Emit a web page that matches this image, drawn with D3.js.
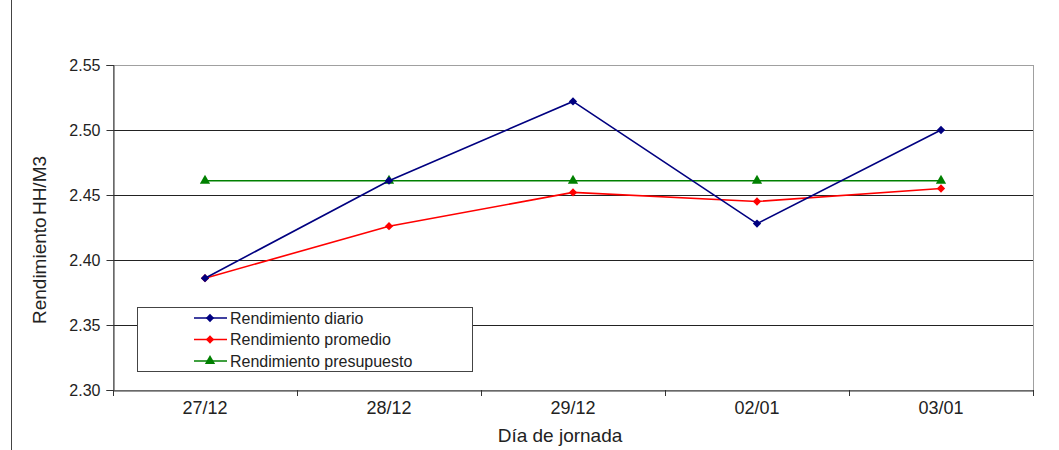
<!DOCTYPE html>
<html><head><meta charset="utf-8">
<script src="https://cdn.jsdelivr.net/npm/d3@7"></script>
<style>body{margin:0;background:#fff}svg{display:block;font-family:"Liberation Sans",Arial,sans-serif}</style>
</head><body>
<svg id="c" width="1059" height="450"></svg>
<script>
const categories = ["27/12","28/12","29/12","02/01","03/01"];
const diario = [2.386, 2.461, 2.522, 2.428, 2.500];
const promedio = [2.386, 2.426, 2.452, 2.445, 2.455];
const presupuesto = [2.461, 2.461, 2.461, 2.461, 2.461];
const yTicks = [2.30, 2.35, 2.40, 2.45, 2.50, 2.55];
const seriesNames = ["Rendimiento diario","Rendimiento promedio","Rendimiento presupuesto"];

const svg = d3.select("#c");
const FF = "Liberation Sans, Arial, sans-serif";
const L = 113, R = 1033, T = 65, B = 390;
const x = d3.scaleBand().domain(categories).range([L, R]);
const y = d3.scaleLinear().domain([2.30, 2.55]).range([B, T]);

// left vertical frame line
svg.append("line").attr("x1",11.5).attr("x2",11.5).attr("y1",0).attr("y2",450).attr("stroke","#444").attr("stroke-width",1);

// plot border (top/right gray)
svg.append("rect").attr("x",L+0.5).attr("y",T+0.5).attr("width",R-L).attr("height",B-T)
  .attr("fill","none").attr("stroke","#a0a0a0");

// gridlines
svg.append("g").selectAll("line").data(yTicks.slice(1,-1)).join("line")
  .attr("x1",L).attr("x2",R).attr("y1",d=>Math.round(y(d))+0.5).attr("y2",d=>Math.round(y(d))+0.5)
  .attr("stroke","#222").attr("stroke-width",1);

// y axis
const ya = svg.append("g").attr("transform",`translate(${L+0.5},0)`)
  .call(d3.axisLeft(y).tickValues(yTicks).tickFormat(d3.format(".2f")).tickSize(7).tickPadding(6));
ya.select(".domain").attr("stroke","#333");
ya.selectAll(".tick line").attr("stroke","#333");
ya.selectAll("text").attr("font-size",16).attr("fill","#222").attr("font-family",FF).attr("dy","0.36em");

// x axis
const xa = svg.append("g").attr("transform",`translate(0,${B+0.5})`)
  .call(d3.axisBottom(x).tickSize(0).tickPadding(14));
xa.select(".domain").attr("stroke","#333");
xa.selectAll("text").attr("font-size",18).attr("fill","#222").attr("font-family",FF).attr("dy","0.55em");
// boundary ticks
svg.append("g").selectAll("line").data(categories.concat(["end"])).join("line")
  .attr("x1",(d,i)=>Math.round(L + i*x.step())+0.5).attr("x2",(d,i)=>Math.round(L + i*x.step())+0.5)
  .attr("y1",B).attr("y2",B+6).attr("stroke","#333");

// titles
svg.append("text").attr("x",560).attr("y",442).attr("text-anchor","middle").attr("font-size",19).attr("fill","#222").text("Día de jornada");
svg.append("text").attr("transform","translate(46,240) rotate(-90)").attr("text-anchor","middle").attr("font-size",19).attr("fill","#222").attr("word-spacing",-3).text("Rendimiento HH/M3");

const cx = d => x(d) + x.bandwidth()/2;
const line = d3.line().x((d,i)=>cx(categories[i])).y(d=>y(d));
const diamond = d3.symbol().type(d3.symbolDiamond2).size(44);
const tri = d3.symbol().type(d3.symbolTriangle).size(46);

const series = [
  {vals: presupuesto, color:"#008000", sym: tri},
  {vals: promedio, color:"#ff0000", sym: diamond},
  {vals: diario, color:"#000080", sym: diamond}
];
series.forEach(s=>{
  svg.append("path").attr("d",line(s.vals)).attr("fill","none").attr("stroke",s.color).attr("stroke-width",1.6);
  svg.append("g").selectAll("path").data(s.vals).join("path")
    .attr("transform",(d,i)=>`translate(${cx(categories[i])},${y(d)})`)
    .attr("d",s.sym).attr("fill",s.color);
});

// legend
const lg = svg.append("g");
lg.append("rect").attr("x",137.5).attr("y",307.5).attr("width",335).attr("height",64).attr("fill","#fff").attr("stroke","#444");
const legItems = [{c:"#000080",s:diamond},{c:"#ff0000",s:diamond},{c:"#008000",s:tri}];
seriesNames.forEach((n,i)=>{
  const yy = 318 + i*21.5;
  lg.append("line").attr("x1",194).attr("x2",227).attr("y1",yy).attr("y2",yy).attr("stroke",legItems[i].c).attr("stroke-width",1.6);
  lg.append("path").attr("transform",`translate(210,${yy})`).attr("d",legItems[i].s).attr("fill",legItems[i].c);
  lg.append("text").attr("x",230).attr("y",yy+5.5).attr("font-size",16).attr("fill","#222").text(n);
});
</script>
</body></html>
